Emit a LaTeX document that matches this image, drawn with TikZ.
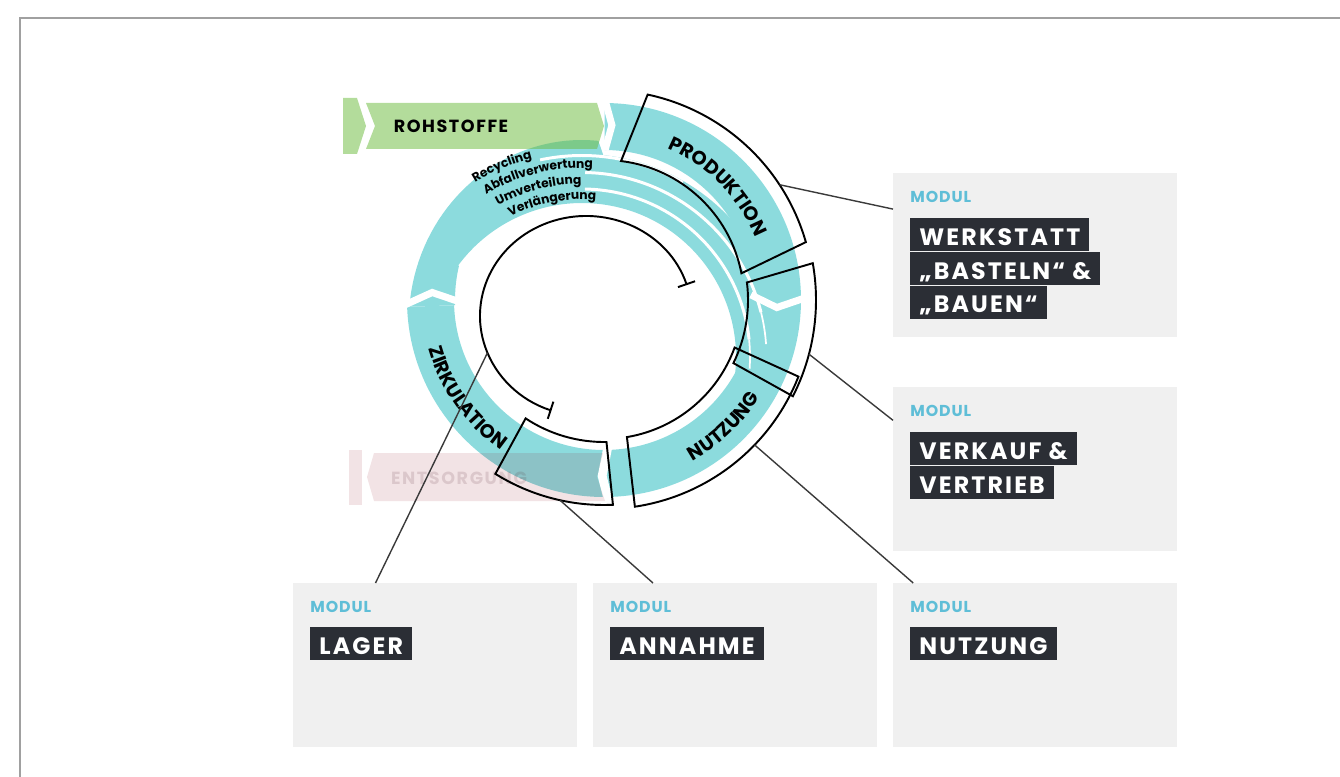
\documentclass[tikz,border=0pt]{standalone}
\usepackage{fontspec}
\setmainfont{Poppins}
\newfontfamily\tagfont{Poppins}[LetterSpace=9]
\newfontfamily\modfont{Poppins}[LetterSpace=6]
\newfontfamily\ringfam{Poppins}[LetterSpace=6]
\usepackage{tikz}
\usetikzlibrary{positioning, arrows.meta, calc, decorations.text}
\definecolor{ringteal}{HTML}{8CDBDD}
\definecolor{tagdark}{HTML}{2B2E35}
\definecolor{boxgrey}{HTML}{F0F0F0}
\definecolor{modulblue}{HTML}{5FBED7}
\definecolor{rohgreen}{HTML}{6FBC42}
\definecolor{entred}{HTML}{8C0014}
\definecolor{entgrey}{HTML}{502028}
\definecolor{framegrey}{HTML}{A0A0A0}
\definecolor{linegrey}{HTML}{3A3A3A}
\newcommand\ringfont{\ringfam\bfseries\fontsize{11}{12}\selectfont}
\newcommand\stripefont{\ringfam\bfseries\fontsize{7}{8}\selectfont}

\tikzset{
  modbox/.style={fill=boxgrey, minimum width=5.68cm, minimum height=3.28cm, anchor=north west, inner sep=0pt},
  modul/.style={text=modulblue, font=\modfont\bfseries\fontsize{9}{9}\selectfont, inner sep=0pt},
  tag/.style={fill=tagdark, text=white, font=\tagfont\bfseries\fontsize{13.5}{14}\selectfont,
              inner xsep=0.18cm, inner ysep=0pt, text height=0.54cm, text depth=0.12cm},
  sector/.style={draw=black, line width=1.1pt},
  link/.style={draw=linegrey, line width=0.8pt},
  gap/.style={draw=white, line width=4pt},
  stripegap/.style={draw=white, line width=1.7pt},
}

\begin{document}
\begin{tikzpicture}[x=0.02cm, y=0.02cm]
  \useasboundingbox (0,0) rectangle (1340,-777);
  \draw[framegrey, line width=1pt] (20,-777) -- (20,-18) -- (1340,-18);

  % ring centres
  \coordinate (C) at (604,-300);
  \coordinate (S) at (582,-357);
  \coordinate (B) at (586,-316);

  % module boxes
  \node[modbox] (werkstatt) at (893,-173) {};
  \node[modul, below right=0.36cm and 0.34cm of werkstatt.north west] (werkstatt-modul) {MODUL};
  \node[tag, below right=0.9cm and 0.34cm of werkstatt.north west] (werkstatt-1) {WERKSTATT};
  \node[tag, below=0pt of werkstatt-1.south west, anchor=north west] (werkstatt-2) {„BASTELN“ \&};
  \node[tag, below=0pt of werkstatt-2.south west, anchor=north west] (werkstatt-3) {„BAUEN“};

  \node[modbox] (verkauf) at (893,-387) {};
  \node[modul, below right=0.36cm and 0.34cm of verkauf.north west] (verkauf-modul) {MODUL};
  \node[tag, below right=0.9cm and 0.34cm of verkauf.north west] (verkauf-1) {VERKAUF \&};
  \node[tag, below=0pt of verkauf-1.south west, anchor=north west] (verkauf-2) {VERTRIEB};

  \node[modbox] (lager) at (293,-583) {};
  \node[modul, below right=0.36cm and 0.34cm of lager.north west] (lager-modul) {MODUL};
  \node[tag, below right=0.88cm and 0.34cm of lager.north west] (lager-1) {LAGER};

  \node[modbox] (annahme) at (593,-583) {};
  \node[modul, below right=0.36cm and 0.34cm of annahme.north west] (annahme-modul) {MODUL};
  \node[tag, below right=0.88cm and 0.34cm of annahme.north west] (annahme-1) {ANNAHME};

  \node[modbox] (nutzung) at (893,-583) {};
  \node[modul, below right=0.36cm and 0.34cm of nutzung.north west] (nutzung-modul) {MODUL};
  \node[tag, below right=0.88cm and 0.34cm of nutzung.north west] (nutzung-1) {NUTZUNG};

  % teal ring
  \fill[ringteal] ($(C)+(89.8:197)$) arc[start angle=89.8, end angle=-178, radius=197]
    -- ($(C)+(-178:150)$) arc[start angle=-178, end angle=89.8, radius=150] -- cycle;
  \fill[ringteal] plot[domain=182:92, samples=40, variable=\a]
      ({604+(160+0.395*(\a-94))*cos(\a)}, {-300+(160+0.395*(\a-94))*sin(\a)})
    -- ($(S)+(84:203)$) arc[start angle=84, end angle=-6, radius=203]
    -- ($(S)+(-6:154)$) arc[start angle=-6, end angle=143.5, radius=154]
    -- ($(C)+(166.8:149)$) arc[start angle=166.8, end angle=182, radius=149] -- cycle;

  % chevron gaps and stripes
  \draw[gap] ($(C)+(89.7:200)$) -- ($(C)+(87.4:175)$) -- ($(C)+(89.6:150)$);
  \draw[gap] ($(C)+(2:147)$) -- ($(C)+(-2.5:173)$) -- ($(C)+(0.5:200)$);
  \draw[gap, line width=5pt] ($(C)+(271.5:147)$) -- ($(C)+(269.4:176)$) -- ($(C)+(271.2:200)$);
  \draw[gap] ($(C)+(181.5:200)$) -- ($(C)+(177.5:172)$) -- ($(C)+(180.5:146)$);
  \draw[stripegap] ($(S)+(102:201.5)$) arc[start angle=102, end angle=60, radius=201.5];
  \draw[stripegap] ($(S)+(89:184.5)$) arc[start angle=89, end angle=14, radius=184.5];
  \draw[stripegap, line width=1pt] ($(S)+(14:184.5)$) arc[start angle=14, end angle=4, radius=184.5];
  \draw[stripegap] ($(S)+(89:168)$) arc[start angle=89, end angle=6, radius=168];
  \draw[stripegap, line width=1pt] ($(S)+(6:168)$) arc[start angle=6, end angle=-4, radius=168];

  % ring labels
  \path[decorate, decoration={text along path, text align=center, text={|\ringfont|PRODUKTION}}]
    ($(C)+(74.8:164)$) arc[start angle=74.8, end angle=14.8, radius=164];
  \path[decorate, decoration={text along path, text align=center, text={|\ringfont|NUTZUNG}}]
    ($(C)+(-76.6:184)$) arc[start angle=-76.6, end angle=-16.6, radius=184];
  \path[decorate, decoration={text along path, text align=center, text={|\ringfont|ZIRKULATION}}]
    ($(C)+(184.5:182)$) arc[start angle=184.5, end angle=246.5, radius=182];
  \path[decorate, decoration={text along path, text={|\stripefont|Recycling}}]
    ($(S)+(121.5:204.5)$) arc[start angle=121.5, end angle=85, radius=204.5];
  \path[decorate, decoration={text along path, text={|\stripefont|Abfallverwertung}}]
    ($(S)+(120.5:189)$) arc[start angle=120.5, end angle=75, radius=189];
  \path[decorate, decoration={text along path, text={|\stripefont|Umverteilung}}]
    ($(S)+(119:173)$) arc[start angle=119, end angle=75, radius=173];
  \path[decorate, decoration={text along path, text={|\stripefont|Verlängerung}}]
    ($(S)+(117:157.5)$) arc[start angle=117, end angle=70, radius=157.5];

  % in- and outflow
  \fill[rohgreen, fill opacity=0.53] (343,-98) -- (357,-98) -- (366,-126) -- (357,-154) -- (343,-154) -- cycle;
  \fill[rohgreen, fill opacity=0.53] (366,-103) -- (597,-103) -- (604,-126) -- (597,-149) -- (366,-149) -- (375,-126) -- cycle;
  \node[font=\tagfont\bfseries\fontsize{10}{10}\selectfont] (rohstoffe) at (451,-126) {ROHSTOFFE};
  \fill[entred, fill opacity=0.11] (349,-450) rectangle (362,-505);
  \fill[entred, fill opacity=0.11] (374,-453) -- (603,-453) -- (597,-477) -- (605,-501) -- (374,-501) -- (367,-477) -- cycle;
  \node[font=\tagfont\bfseries\fontsize{10}{10}\selectfont, text=entgrey, text opacity=0.14] (entsorgung) at (459,-478) {ENTSORGUNG};

  % module sectors
  \draw[sector] ($(C)+(78:210)$) arc[start angle=78, end angle=16, radius=210]
    -- ($(C)+(11:140)$) arc[start angle=11, end angle=83, radius=140] -- cycle;
  \draw[sector] ($(C)+(10:212)$) arc[start angle=10, end angle=-27, radius=212]
    -- ($(C)+(-26:144)$) arc[start angle=-26, end angle=7, radius=144] -- cycle;
  \draw[sector] ($(C)+(-21.5:209)$) arc[start angle=-21.5, end angle=-81.5, radius=209]
    -- ($(C)+(-80.5:139)$) arc[start angle=-80.5, end angle=-20, radius=139] -- cycle;
  \draw[sector] ($(C)+(238:205)$) arc[start angle=238, end angle=272.5, radius=205]
    -- ($(C)+(271:142)$) arc[start angle=271, end angle=236.5, radius=142] -- cycle;

  % storage loop
  \draw[line width=1.1pt, {Bar[width=0.36cm]}-{Bar[width=0.36cm]}]
    ($(B)+(18:106 and 100)$) arc[start angle=18, end angle=251, x radius=106, y radius=100];

  % connectors
  \coordinate (werkstatt-pt) at ($(C)+(33.3:210)$);
  \coordinate (verkauf-pt) at ($(C)+(-14.8:212)$);
  \coordinate (nutzung-pt) at ($(C)+(-43.9:209)$);
  \coordinate (annahme-pt) at ($(C)+(257.6:205)$);
  \coordinate (lager-pt) at ($(B)+(201.6:106 and 100)$);
  \draw[link] (werkstatt-pt) -- (werkstatt.162);
  \draw[link] (verkauf-pt) -- (verkauf.161.5);
  \draw[link] (nutzung-pt) -- (nutzung.146.3);
  \draw[link] (annahme-pt) -- (annahme.135.3);
  \draw[link] (lager-pt) -- (lager.126.2);
\end{tikzpicture}
\end{document}
